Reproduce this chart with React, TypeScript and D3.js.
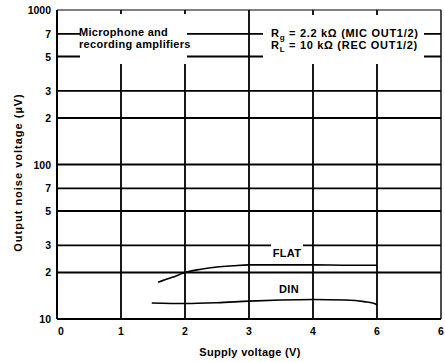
import React from "react";
import * as d3 from "d3";

const xTickValues = [0, 1, 2, 3, 4, 5, 6];
const xTickLabels = ["0", "1", "2", "3", "4", "6", "6"];
const yTickValues = [10, 20, 30, 50, 70, 100, 200, 300, 500, 700, 1000];
const yTickLabels = ["10", "2", "3", "5", "7", "100", "2", "3", "5", "7", "1000"];
const yGridValues = [20, 30, 50, 70, 100, 200, 300, 500, 700];
const xGridValues = [1, 2, 3, 4, 5];

const flatX = [1.58, 1.8, 2.0, 2.25, 2.5, 2.75, 3.0, 3.5, 4.0, 4.5, 5.0];
const flatY = [17.3, 18.6, 20.0, 21.0, 21.7, 22.1, 22.4, 22.4, 22.4, 22.3, 22.3];
const dinX = [1.48, 2.0, 2.5, 3.0, 3.5, 4.0, 4.5, 4.8, 4.97, 5.0];
const dinY = [12.7, 12.6, 12.75, 13.05, 13.27, 13.38, 13.27, 12.95, 12.55, 12.3];

const W = 445;
const H = 362;
const FONT = "'Liberation Sans', Arial, Helvetica, sans-serif";

export default function App() {
  const x = d3.scaleLinear().domain([0, 6]).range([57, 441]);
  const y = d3.scaleLog().domain([10, 1000]).range([319, 10]);

  const line = d3
    .line<[number, number]>()
    .x((d) => x(d[0]))
    .y((d) => y(d[1]))
    .curve(d3.curveMonotoneX);

  const flatPts = flatX.map((v, i) => [v, flatY[i]] as [number, number]);
  const dinPts = dinX.map((v, i) => [v, dinY[i]] as [number, number]);

  return (
    <svg
      width={W}
      height={H}
      style={{ position: "absolute", left: 0, top: 0, background: "#fff" }}
      fontFamily={FONT}
    >
      <rect x={0} y={0} width={W} height={H} fill="#fff" />
      {/* horizontal grid */}
      {yGridValues.map((v) => (
        <line key={"h" + v} x1={x(0)} x2={x(6)} y1={y(v)} y2={y(v)} stroke="#000" strokeWidth={1.8} />
      ))}
      {/* vertical grid */}
      {xGridValues.map((v) => (
        <line key={"v" + v} x1={x(v)} x2={x(v)} y1={y(1000)} y2={y(10)} stroke="#000" strokeWidth={1.8} />
      ))}
      {/* white boxes behind annotations */}
      <rect x={80} y={14} width={107} height={50} fill="#fff" />
      <rect x={263} y={15} width={161} height={49} fill="#fff" />
      <rect x={271} y={244} width={32} height={14} fill="#fff" />

      {/* frame */}
      <line x1={x(0)} x2={x(6)} y1={y(1000)} y2={y(1000)} stroke="#000" strokeWidth={1} />
      <line x1={x(6)} x2={x(6)} y1={y(1000)} y2={y(10)} stroke="#000" strokeWidth={1.4} />
      <line x1={x(0)} x2={x(6)} y1={y(10)} y2={y(10)} stroke="#000" strokeWidth={2} />
      <line x1={x(0)} x2={x(0)} y1={y(1000)} y2={y(10)} stroke="#000" strokeWidth={2} />

      {/* curves */}
      <path d={line(flatPts) || ""} fill="none" stroke="#000" strokeWidth={1.6} />
      <path d={line(dinPts) || ""} fill="none" stroke="#000" strokeWidth={1.6} />

      {/* annotations */}
      <g fontSize={11} fontWeight="bold" fill="#000">
        <text x={79} y={35.5} letterSpacing={0.3}>Microphone and</text>
        <text x={79} y={47.5} letterSpacing={0.3}>recording amplifiers</text>
        <text x={271} y={37} letterSpacing={0.7}>
          R<tspan fontSize={8} dy={3}>g</tspan>
          <tspan dy={-3}> = 2.2 kΩ (MIC OUT1/2)</tspan>
        </text>
        <text x={271} y={49} letterSpacing={0.7}>
          R<tspan fontSize={8} dy={3}>L</tspan>
          <tspan dy={-3}> = 10 kΩ (REC OUT1/2)</tspan>
        </text>
        <text x={287} y={252.5} textAnchor="middle" dominantBaseline="central" letterSpacing={0.3}>FLAT</text>
        <text x={289} y={288.5} textAnchor="middle" dominantBaseline="central" letterSpacing={0.3}>DIN</text>
      </g>

      {/* y tick labels */}
      <g fontSize={10.5} fontWeight="bold" fill="#000">
        {yTickValues.map((v, i) => (
          <text key={"yt" + v} x={51} y={y(v)} textAnchor="end" dominantBaseline="central">
            {yTickLabels[i]}
          </text>
        ))}
      </g>
      {/* x tick labels */}
      <g fontSize={10.5} fontWeight="bold" fill="#000">
        {xTickValues.map((v, i) => (
          <text
            key={"xt" + v}
            x={x(v) + (i === 0 ? 4 : 0)}
            y={331}
            textAnchor="middle"
            dominantBaseline="central"
          >
            {xTickLabels[i]}
          </text>
        ))}
      </g>

      {/* axis titles */}
      <text x={250} y={352} textAnchor="middle" dominantBaseline="central" fontSize={11} fontWeight="bold" letterSpacing={0.3}>
        Supply voltage (V)
      </text>
      <text
        transform={`translate(18,172.5) rotate(-90)`}
        textAnchor="middle"
        dominantBaseline="central"
        fontSize={11}
        fontWeight="bold"
        letterSpacing={1}
      >
        Output noise voltage (µV)
      </text>
    </svg>
  );
}
